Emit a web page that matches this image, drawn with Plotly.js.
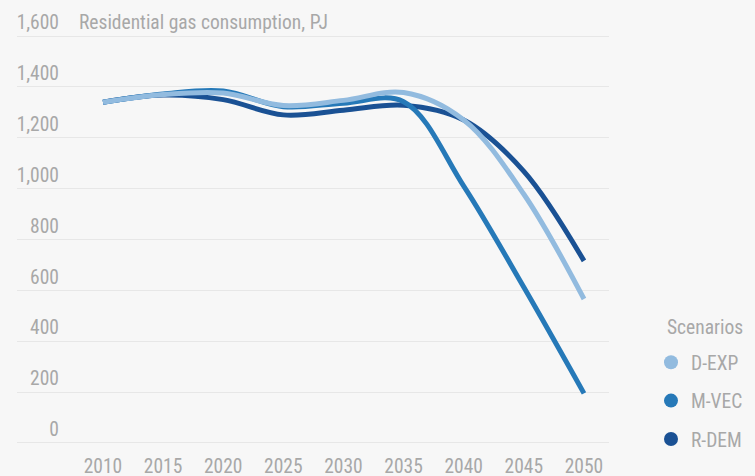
<!DOCTYPE html>
<html>
<head>
<meta charset="utf-8">
<script src="https://cdn.plot.ly/plotly-3.0.1.min.js"></script>
<style>
html,body{margin:0;padding:0;background:#f7f7f7;}
#chart{width:755px;height:476px;}
</style>
</head>
<body>
<div id="chart"></div>
<script>
// ---- data ----
const years = [2010, 2015, 2020, 2025, 2030, 2035, 2040, 2045, 2050];
const dExp  = [1340, 1370, 1376, 1327, 1347, 1378, 1270, 978, 566];
const mVec  = [1340, 1372, 1384, 1322, 1336, 1342, 1010, 612, 195];
const rDem  = [1340, 1368, 1350, 1290, 1308, 1328, 1270, 1068, 716];
const seriesNames = ['D-EXP', 'M-VEC', 'R-DEM'];
const yTicks = [0, 200, 400, 600, 800, 1000, 1200, 1400, 1600];
const chartTitle = 'Residential gas consumption, PJ';
const legendTitle = 'Scenarios';

// ---- styles ----
const colors = {'D-EXP': '#92bbdf', 'M-VEC': '#2679b8', 'R-DEM': '#1a5194'};
const seriesData = {'D-EXP': dExp, 'M-VEC': mVec, 'R-DEM': rDem};
const FONT = '"Liberation Sans Narrow", "Roboto Condensed", "Arial Narrow", Roboto, sans-serif';
const GREY = '#a8a8a8';
const FS = 19.5;

const traces = [];
// draw order: R-DEM bottom, D-EXP on top
['R-DEM', 'M-VEC', 'D-EXP'].forEach(n => {
  traces.push({
    x: years, y: seriesData[n], type: 'scatter', mode: 'lines',
    line: {color: colors[n], width: 5, shape: 'spline', smoothing: 1},
    showlegend: false, hoverinfo: 'skip', name: n
  });
});
// empty trace so the label axis (y2) is drawn
traces.push({x: [null], y: [null], yaxis: 'y2', type: 'scatter', mode: 'lines',
  showlegend: false, hoverinfo: 'skip'});
// legend entries (circles)
seriesNames.forEach(n => {
  traces.push({
    x: [null], y: [null], type: 'scatter', mode: 'markers',
    marker: {color: colors[n], size: 14}, name: n, legendgroup: n
  });
});

const yRange = [-8, 1608];

const layout = {
  width: 755, height: 476,
  paper_bgcolor: '#f7f7f7', plot_bgcolor: '#f7f7f7',
  margin: {l: 17, r: 146, t: 34.47, b: 31.27, pad: 0, autoexpand: false},
  font: {family: FONT, size: FS, color: GREY},
  title: {
    text: chartTitle, xref: 'container', x: 79 / 755, xanchor: 'left',
    yref: 'container', y: 1 - 22 / 476, yanchor: 'middle',
    font: {family: FONT, size: FS, color: GREY}
  },
  xaxis: {
    range: [2002.85, 2052.08], tickvals: years, showgrid: false, zeroline: false,
    showline: false, ticks: '', ticklabelstandoff: 7,
    tickfont: {family: FONT, size: FS, color: GREY}, fixedrange: true
  },
  yaxis: {
    range: yRange, tickvals: yTicks, showticklabels: false, showgrid: true,
    gridcolor: '#e7e7e7', gridwidth: 1, zeroline: false, showline: false, ticks: '',
    fixedrange: true
  },
  yaxis2: {
    overlaying: 'y', anchor: 'free', position: 42 / 592, side: 'left',
    range: yRange, tickvals: yTicks, tickformat: ',d', showgrid: false,
    zeroline: false, showline: false, ticks: '', ticklabelposition: 'outside top',
    tickfont: {family: FONT, size: FS, color: GREY}, fixedrange: true
  },
  legend: {
    x: (651 - 17) / 592, xanchor: 'left', y: 0.248, yanchor: 'top',
    bgcolor: 'rgba(0,0,0,0)', traceorder: 'grouped', tracegroupgap: 10,
    font: {family: FONT, size: FS, color: GREY}
  },
  annotations: [{
    text: legendTitle, showarrow: false,
    xref: 'paper', x: (704.5 - 17) / 592, xanchor: 'center',
    yref: 'paper', y: (444.73 - 327) / 410.26, yanchor: 'middle',
    font: {family: FONT, size: FS, color: GREY}
  }],
  showlegend: true
};

Plotly.newPlot('chart', traces, layout, {displayModeBar: false, staticPlot: true});
</script>
</body>
</html>
